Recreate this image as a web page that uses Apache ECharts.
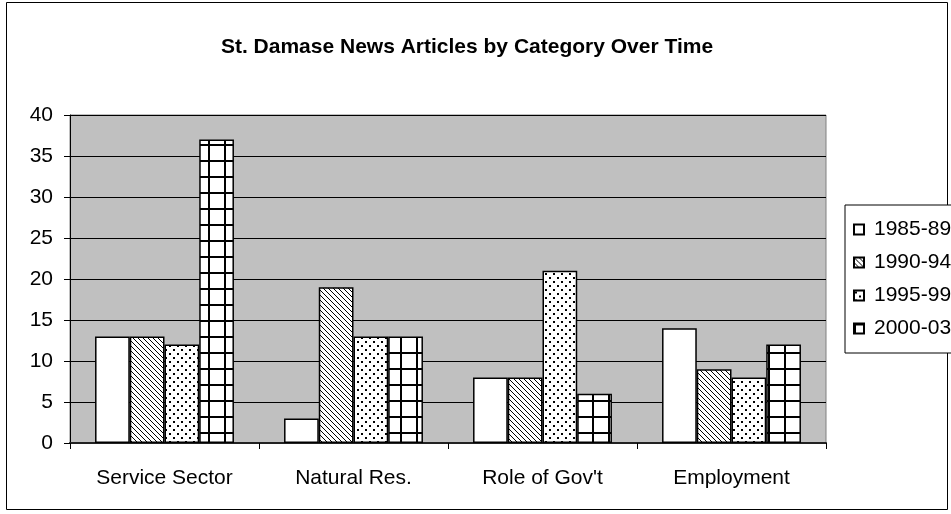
<!DOCTYPE html>
<html>
<head>
<meta charset="utf-8">
<script src="https://cdn.jsdelivr.net/npm/echarts@6/dist/echarts.min.js"></script>
<style>
  html, body { margin: 0; padding: 0; background: #fff; overflow: hidden; }
  #chart { width: 951px; height: 514px; }
</style>
</head>
<body>
<div id="chart"></div>
<script>
// Article counts per category for each period
const categories = ['Service Sector', 'Natural Res.', 'Role of Gov\'t', 'Employment'];
const periods = ['1985-89', '1990-94', '1995-99', '2000-03'];
const values1985 = [13, 3, 8, 14];
const values1990 = [13, 19, 8, 9];
const values1995 = [12, 13, 21, 8];
const values2000 = [37, 13, 6, 12];
const yTicks = [0, 5, 10, 15, 20, 25, 30, 35, 40];

// Monochrome fill patterns, one per period
function makeTile(size, draw) {
  const c = document.createElement('canvas');
  c.width = size; c.height = size;
  const ctx = c.getContext('2d');
  ctx.fillStyle = '#fff';
  ctx.fillRect(0, 0, size, size);
  ctx.fillStyle = '#000';
  draw(ctx, size);
  return { image: c, repeat: 'repeat' };
}
const plainFill = '#ffffff';
const hatchFill = makeTile(5, (ctx, s) => {
  for (let i = 0; i < s; i++) ctx.fillRect(i, i, 1, 1);
});
const dotFill = makeTile(8, (ctx) => {
  ctx.fillRect(1, 1, 2, 2);
  ctx.fillRect(5, 5, 2, 2);
});
const gridFill = makeTile(16, (ctx, s) => {
  ctx.fillRect(0, 0, s, 2);
  ctx.fillRect(0, 0, 2, s);
});

const fills = [plainFill, hatchFill, dotFill, gridFill];
const seriesValues = [values1985, values1990, values1995, values2000];

const chart = echarts.init(document.getElementById('chart'), null, { renderer: 'canvas' });

const font = 'Liberation Sans, Arial, sans-serif';

chart.setOption({
  animation: false,
  backgroundColor: '#fff',
  title: {
    text: 'St. Damase News Articles by Category Over Time',
    left: 462,
    textAlign: 'center',
    top: 32,
    textStyle: { fontFamily: font, fontSize: 21, fontWeight: 'bold', color: '#000' }
  },
  grid: {
    left: 70, right: 125, top: 115, bottom: 71,
    show: true,
    backgroundColor: '#c0c0c0',
    borderColor: '#808080',
    borderWidth: 1
  },
  legend: {
    orient: 'vertical',
    left: 845,
    top: 205,
    data: periods,
    icon: 'rect',
    itemWidth: 10,
    itemHeight: 10,
    itemGap: 12,
    padding: [14, 20, 14, 8],
    backgroundColor: '#fff',
    borderColor: '#000',
    borderWidth: 1,
    borderRadius: 0,
    textStyle: { fontFamily: font, fontSize: 21, color: '#000', padding: [0, 0, 0, 5] }
  },
  xAxis: {
    type: 'category',
    data: categories,
    axisLine: { lineStyle: { color: '#222', width: 2 } },
    axisTick: { show: true, length: 6, lineStyle: { color: '#000' } },
    axisLabel: { fontFamily: font, fontSize: 21, color: '#000', margin: 25 },
    splitLine: { show: false }
  },
  yAxis: {
    type: 'value',
    min: yTicks[0],
    max: yTicks[yTicks.length - 1],
    interval: yTicks[1] - yTicks[0],
    axisLine: { show: true, lineStyle: { color: '#000', width: 1 } },
    axisTick: { show: true, length: 6, lineStyle: { color: '#000' } },
    axisLabel: { fontFamily: font, fontSize: 21, color: '#000', margin: 17 },
    splitLine: { show: true, lineStyle: { color: '#000', width: 1 } }
  },
  series: periods.map((name, i) => ({
    name: name,
    type: 'bar',
    data: seriesValues[i],
    barGap: '0%',
    barCategoryGap: '26.5%',
    itemStyle: { color: fills[i], borderColor: '#000', borderWidth: 1.5 },
    emphasis: { disabled: true }
  })),
  graphic: [{
    type: 'rect',
    shape: { x: 6.5, y: 2.5, width: 941, height: 507 },
    style: { fill: 'none', stroke: '#000', lineWidth: 1 },
    silent: true,
    z: -1
  }]
});
</script>
</body>
</html>
